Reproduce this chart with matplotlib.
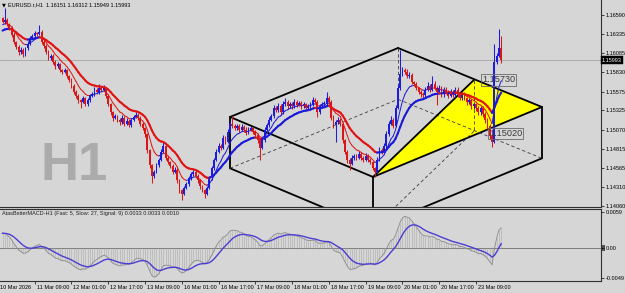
import numpy as np
import matplotlib
matplotlib.use("Agg")
import matplotlib.pyplot as plt
from matplotlib.collections import LineCollection
from matplotlib.patches import Polygon, Rectangle
import matplotlib.transforms as mtransforms

plt.rcParams['font.family'] = ['Liberation Sans', 'DejaVu Sans']

# ---------------- data (EURUSD.r H1) ----------------
first_open = 1.1655
closes = [
    1.1650, 1.1652, 1.1647, 1.1642, 1.1633, 1.1623, 1.1617, 1.1610, 1.1613, 1.1607,
    1.1615, 1.1621, 1.1629, 1.1631, 1.1635, 1.1634, 1.1637, 1.1623, 1.1618, 1.1610,
    1.1602, 1.1605, 1.1597, 1.1591, 1.1594, 1.1586, 1.1584, 1.1586, 1.1578, 1.1573,
    1.1565, 1.1557, 1.1552, 1.1546, 1.1544, 1.1549, 1.1541, 1.1546, 1.1552, 1.1554,
    1.1560, 1.1557, 1.1562, 1.1560, 1.1562, 1.1552, 1.1541, 1.1530, 1.1523, 1.1525,
    1.1520, 1.1517, 1.1523, 1.1515, 1.1519, 1.1513, 1.1520, 1.1524, 1.1527, 1.1523,
    1.1515, 1.1509, 1.1501, 1.1480, 1.1460, 1.1446, 1.1451, 1.1460, 1.1467, 1.1478,
    1.1485, 1.1470, 1.1464, 1.1459, 1.1451, 1.1454, 1.1440, 1.1427, 1.1422, 1.1430,
    1.1435, 1.1443, 1.1448, 1.1451, 1.1446, 1.1440, 1.1432, 1.1427, 1.1422, 1.1430,
    1.1443, 1.1456, 1.1467, 1.1478, 1.1485, 1.1483, 1.1496, 1.1491, 1.1504, 1.1515,
    1.1512, 1.1509, 1.1512, 1.1507, 1.1511, 1.1507, 1.1503, 1.1507, 1.1509, 1.1504,
    1.1500, 1.1493, 1.1483, 1.1493, 1.1507, 1.1513, 1.1520, 1.1525, 1.1536, 1.1533,
    1.1538, 1.1530, 1.1541, 1.1544, 1.1538, 1.1541, 1.1538, 1.1544, 1.1540, 1.1542,
    1.1538, 1.1541, 1.1536, 1.1538, 1.1541, 1.1546, 1.1544, 1.1530, 1.1538, 1.1541,
    1.1542, 1.1549, 1.1544, 1.1523, 1.1513, 1.1517, 1.1520, 1.1515, 1.1493, 1.1478,
    1.1467, 1.1462, 1.1470, 1.1472, 1.1470, 1.1475, 1.1470, 1.1467, 1.1472, 1.1467,
    1.1464, 1.1456, 1.1451, 1.1467, 1.1480, 1.1478, 1.1485, 1.1501, 1.1515, 1.1520,
    1.1512, 1.1536, 1.1562, 1.1581, 1.1586, 1.1584, 1.1578, 1.1580, 1.1570, 1.1568,
    1.1562, 1.1557, 1.1554, 1.1553, 1.1560, 1.1565, 1.1560, 1.1568, 1.1562, 1.1557,
    1.1562, 1.1554, 1.1560, 1.1557, 1.1552, 1.1557, 1.1553, 1.1560, 1.1554, 1.1549,
    1.1554, 1.1549, 1.1544, 1.1546, 1.1538, 1.1541, 1.1536, 1.1530, 1.1536, 1.1528,
    1.1520, 1.1512, 1.1499, 1.1491, 1.1597, 1.1605, 1.16151, 1.15993,
]
# wick lengths in pips (0.0001)
wick_up = [
    2, 16, 3, 2, 2, 3, 2, 2, 3, 2,
    2, 3, 2, 3, 3, 2, 9, 2, 3, 2,
    2, 3, 2, 2, 3, 2, 2, 3, 2, 2,
    2, 2, 2, 3, 2, 3, 2, 3, 2, 3,
    3, 2, 6, 3, 4, 2, 2, 2, 2, 3,
    2, 2, 3, 2, 3, 2, 3, 3, 4, 2,
    2, 2, 2, 2, 2, 2, 3, 3, 3, 3,
    6, 2, 2, 2, 3, 3, 2, 2, 2, 3,
    3, 3, 3, 3, 2, 2, 2, 2, 2, 3,
    3, 3, 3, 4, 4, 3, 4, 3, 4, 4,
    10, 3, 3, 2, 3, 2, 3, 3, 3, 2,
    2, 2, 2, 3, 3, 3, 4, 3, 4, 3,
    4, 3, 4, 5, 3, 3, 3, 4, 3, 3,
    3, 3, 2, 3, 3, 4, 3, 2, 3, 3,
    3, 8, 3, 2, 3, 3, 4, 3, 2, 2,
    2, 2, 4, 3, 3, 4, 3, 2, 4, 3,
    2, 2, 2, 4, 4, 3, 4, 4, 4, 5,
    3, 4, 5, 32, 4, 3, 3, 4, 2, 2,
    2, 2, 2, 3, 4, 5, 3, 10, 3, 3,
    4, 3, 4, 3, 2, 4, 3, 4, 3, 2,
    3, 3, 2, 3, 2, 3, 2, 2, 3, 2,
    2, 2, 2, 2, 24, 4, 25, 16.1,
]
wick_dn = [
    2, 3, 2, 3, 3, 2, 3, 4, 2, 4,
    2, 2, 2, 2, 2, 3, 2, 2, 3, 3,
    3, 2, 3, 3, 2, 3, 3, 2, 3, 3,
    3, 3, 3, 3, 8, 2, 3, 2, 2, 2,
    2, 3, 2, 2, 2, 3, 3, 3, 4, 2,
    3, 4, 2, 3, 2, 3, 2, 2, 2, 3,
    3, 3, 3, 4, 4, 10, 3, 2, 2, 2,
    2, 3, 3, 3, 3, 2, 3, 4, 8, 2,
    2, 2, 2, 2, 3, 3, 3, 3, 5, 2,
    2, 2, 2, 2, 2, 3, 2, 3, 2, 2,
    3, 3, 2, 3, 2, 3, 3, 2, 2, 3,
    3, 4, 16, 2, 2, 2, 2, 2, 2, 3,
    2, 3, 2, 2, 3, 2, 3, 2, 3, 2,
    3, 2, 3, 2, 2, 2, 2, 6, 2, 2,
    2, 2, 3, 3, 4, 22, 3, 3, 4, 3,
    4, 8, 2, 3, 3, 2, 3, 3, 2, 3,
    3, 3, 7, 2, 2, 3, 2, 2, 2, 2,
    3, 2, 2, 2, 3, 3, 3, 3, 3, 3,
    3, 3, 3, 4, 2, 2, 3, 2, 3, 17,
    2, 4, 3, 3, 3, 2, 3, 2, 3, 3,
    3, 3, 4, 3, 4, 3, 4, 4, 3, 4,
    4, 4, 4, 7, 2, 3, 2, 4.4,
]

title_text = "EURUSD.r,H1  1.16151 1.16312 1.15949 1.15993"
macd_title = "AtasBetterMACD-H1 (Fast: 5, Slow: 27, Signal: 9) 0.0033 0.0033 0.0010"
current_price = 1.15993

price_ticks = [1.16590, 1.16335, 1.16085, 1.15830, 1.15575, 1.15325,
               1.15070, 1.14815, 1.14565, 1.14310, 1.14060]
macd_ticks = [0.0059, 0.0, -0.0049]
macd_tick_labels = ["0.0059", "0.00", "-0.0049"]
time_label_bars = [-2, 14, 30, 46, 62, 78, 94, 110, 126, 142, 158, 174, 190, 206]
time_labels = ["10 Mar 2026", "11 Mar 09:00", "12 Mar 01:00", "12 Mar 17:00",
               "13 Mar 09:00", "16 Mar 01:00", "16 Mar 17:00", "17 Mar 09:00",
               "18 Mar 01:00", "18 Mar 17:00", "19 Mar 09:00", "20 Mar 01:00",
               "20 Mar 17:00", "23 Mar 09:00"]

# moving averages / MACD settings and start states
ma_fast_period, ma_slow_period = 8, 18
ma_fast_seed, ma_slow_seed = 1.1645, 1.1637
macd_fast, macd_slow, macd_signal = 5, 27, 9
macd_fast_seed, macd_slow_seed, macd_signal_seed = 1.1648, 1.1622, 0.0024

# drawn objects (bar index, price)
cube_top = [(99.0, 1.15239), (172.1, 1.16153), (234.7, 1.15371), (161.2, 1.14444)]
cube_depth = 0.0068
tri_top = [(161.2, 1.14444), (205.1, 1.15729), (234.7, 1.15371)]
level_labels = [(208.6, 1.15730), (211.7, 1.15020)]

# ---------------- styling ----------------
BG = "#d6d6d6"
BULL = "#1c1cdc"
BEAR = "#d81818"
MA_UP = "#1a1ad8"
MA_DN = "#e01414"
XL = (-1.09, 260.4)

fig = plt.figure(figsize=(6.25, 2.93), dpi=100, facecolor=BG)
ax = fig.add_axes([0, 1 - 207 / 293, 601 / 625, 207 / 293], facecolor=BG)
ax2 = fig.add_axes([0, 1 - 281 / 293, 601 / 625, 72 / 293], facecolor=BG)

closes_a = np.array(closes, dtype=float)
n = len(closes_a)
xs = np.arange(n)
opens = np.concatenate([[first_open], closes_a[:-1]])
highs = np.maximum(opens, closes_a) + np.array(wick_up) * 1e-4
lows = np.minimum(opens, closes_a) - np.array(wick_dn) * 1e-4


def ema(vals, period, seed):
    a = 2.0 / (period + 1)
    out, e = [], seed
    for v in vals:
        e = e + a * (v - e)
        out.append(e)
    return np.array(out)


# ---------------- main panel ----------------
ax.set_xlim(*XL)
ax.set_ylim(1.14046, 1.16789)

ax.axhline(current_price, color="#a4a4a4", lw=0.6, zorder=0.8)

# cube object
top = cube_top
bot = [(x, p - cube_depth) for x, p in cube_top]
solid_kw = dict(color="black", lw=1.3, zorder=2, solid_capstyle="round")
dash_kw = dict(color="#3c3c3c", lw=0.6, ls=(0, (4, 3)), zorder=2)
ax.add_patch(Polygon(tri_top, closed=True, facecolor="#ffff00", edgecolor="none", zorder=1.5))
for k in range(4):
    a, b = top[k], top[(k + 1) % 4]
    ax.plot([a[0], b[0]], [a[1], b[1]], **solid_kw)
for k in (0, 2, 3):
    ax.plot([top[k][0], bot[k][0]], [top[k][1], bot[k][1]], **solid_kw)
ax.plot([bot[0][0], bot[3][0]], [bot[0][1], bot[3][1]], **solid_kw)
ax.plot([bot[3][0], bot[2][0]], [bot[3][1], bot[2][1]], **solid_kw)
ax.plot([bot[0][0], bot[1][0]], [bot[0][1], bot[1][1]], **dash_kw)
ax.plot([bot[1][0], bot[2][0]], [bot[1][1], bot[2][1]], **dash_kw)
ax.plot([top[1][0], bot[1][0]], [top[1][1], bot[1][1]], **dash_kw)
# triangle prism
ax.plot([tri_top[0][0], tri_top[1][0]], [tri_top[0][1], tri_top[1][1]], **solid_kw)
apex_b = (tri_top[1][0], tri_top[1][1] - cube_depth)
ax.plot([tri_top[1][0], apex_b[0]], [tri_top[1][1], apex_b[1]], **dash_kw)
ax.plot([apex_b[0], bot[3][0]], [apex_b[1], bot[3][1]], **dash_kw)

# candles
cols = np.where(closes_a >= opens, BULL, BEAR)
ax.vlines(xs, lows, highs, colors=cols, lw=0.75, zorder=3)
body_h = closes_a - opens
body_h = np.where(np.abs(body_h) < 0.00006, 0.00006, body_h)
ax.bar(xs, body_h, bottom=opens, width=0.8, color=cols, linewidth=0, zorder=3)


def slope_line(axis, y, lw):
    pts = np.column_stack([xs, y])
    segs = np.stack([pts[:-1], pts[1:]], axis=1)
    c = np.where(np.diff(y) >= 0, MA_UP, MA_DN)
    axis.add_collection(LineCollection(segs, colors=c, linewidths=lw, zorder=4,
                                       capstyle="round"))


ma_slow = ema(closes_a, ma_slow_period, ma_slow_seed)
ma_fast = ema(closes_a, ma_fast_period, ma_fast_seed)
slope_line(ax, ma_slow, 1.5)
slope_line(ax, ma_fast, 0.7)

for bx, lv in level_labels:
    ax.text(bx, lv, f"{lv:.5f}", fontsize=6.6, color="#3a3a3a", ha="left", va="center",
            zorder=5, bbox=dict(boxstyle="square,pad=0.12", fc="none", ec="#6a6a6a", lw=0.6))

fig.text(40 / 625, 1 - 180 / 293, "H1", fontsize=38, fontweight="bold", color="#ababab",
         ha="left", va="baseline", zorder=0.5)

ax.yaxis.tick_right()
ax.set_yticks(price_ticks)
ax.set_yticklabels([f"{v:.5f}" for v in price_ticks])
ax.tick_params(axis="y", direction="out", length=2, width=0.5, pad=1.2, labelsize=4,
               colors="black")
ax.set_xticks([])
for s in ("left", "top"):
    ax.spines[s].set_visible(False)
for s in ("right", "bottom"):
    ax.spines[s].set_color("#303030")
    ax.spines[s].set_linewidth(0.8)

tr = mtransforms.blended_transform_factory(ax.transAxes, ax.transData)
ax.text(1.0017, current_price, f"{current_price:.5f}", transform=tr, fontsize=4,
        color="white", ha="left", va="center", zorder=6, clip_on=False,
        bbox=dict(boxstyle="square,pad=0.25", fc="black", ec="black", lw=0.3))

fig.text(2 / 625, 1 - 5 / 293, "\u25bc", fontsize=3.6, family="DejaVu Sans",
         ha="left", va="center", color="black")
fig.text(8 / 625, 1 - 5 / 293, title_text, fontsize=4, ha="left", va="center",
         color="black")

# ---------------- MACD panel ----------------
m_fast = ema(closes_a, macd_fast, macd_fast_seed)
m_slow = ema(closes_a, macd_slow, macd_slow_seed)
macd = m_fast - m_slow
signal = ema(macd, macd_signal, macd_signal_seed)

ax2.set_xlim(*XL)
ax2.set_ylim(-0.00539, 0.00639)
ax2.axhline(0, color="#7c7c7c", lw=0.7, zorder=1)
ax2.vlines(xs, 0, macd, colors="#ababab", lw=0.4, zorder=1.5)
ax2.plot(xs, macd, color="#8a8a8a", lw=0.6, zorder=2)
ax2.plot(xs, signal, color="#4a3ed2", lw=1.0, zorder=3)

ax2.yaxis.tick_right()
ax2.set_yticks(macd_ticks)
ax2.set_yticklabels(macd_tick_labels)
ax2.tick_params(axis="y", direction="out", length=2, width=0.5, pad=1.2, labelsize=4)
tr2 = mtransforms.blended_transform_factory(ax2.transAxes, ax2.transData)
ax2.add_patch(Rectangle((1.0, -0.0005), 0.007, 0.001, transform=tr2, fc="#505050",
                        ec="none", clip_on=False, zorder=0.5))

vis = [b for b in time_label_bars if XL[0] <= b <= XL[1]]
ax2.set_xticks(vis)
ax2.set_xticklabels([""] * len(vis))
ax2.tick_params(axis="x", direction="out", length=2, width=0.5)
trx = mtransforms.blended_transform_factory(ax2.transData, ax2.transAxes)
trx = mtransforms.offset_copy(trx, fig=fig, x=2, y=0, units="dots")
for b, lab in zip(time_label_bars, time_labels):
    ax2.text(b, -0.085, lab, transform=trx, fontsize=4, ha="left", va="center",
             clip_on=False, color="black")

ax2.spines["left"].set_visible(False)
for s in ("right", "bottom", "top"):
    ax2.spines[s].set_color("#303030")
    ax2.spines[s].set_linewidth(0.8)

fig.text(2 / 625, 1 - 214 / 293, macd_title, fontsize=4, ha="left", va="center",
         color="#202020")

fig.savefig("out.png", dpi=100, facecolor=BG)
